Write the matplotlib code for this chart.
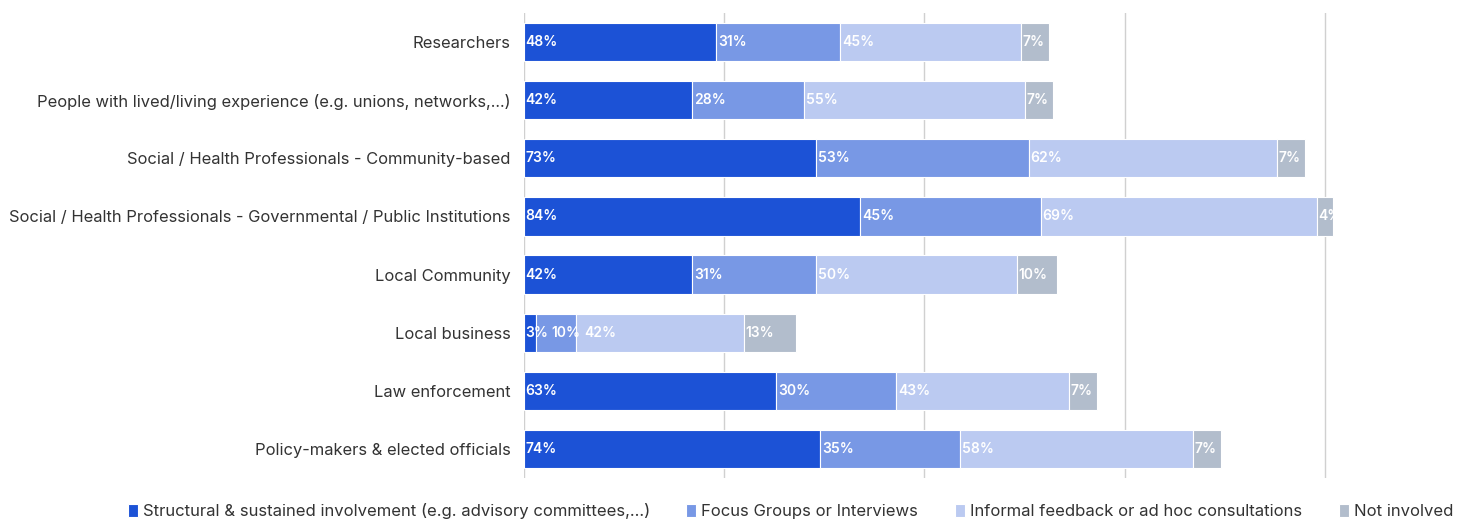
import numpy as np
import matplotlib.pyplot as plt
from matplotlib.patches import Rectangle

plt.rcParams['font.family'] = ['Inter', 'DejaVu Sans']

# -------------------------------------------------
# Datos
# -------------------------------------------------
categorias = [
    "Researchers",
    "People with lived/living experience (e.g. unions, networks,...)",
    "Social / Health Professionals - Community-based",
    "Social / Health Professionals - Governmental / Public Institutions",
    "Local Community",
    "Local business",
    "Law enforcement",
    "Policy-makers & elected officials",
]
series = [
    "Structural & sustained involvement (e.g. advisory committees,...)",
    "Focus Groups or Interviews",
    "Informal feedback or ad hoc consultations",
    "Not involved",
]
estructural = [48, 42, 73, 84, 42, 3, 63, 74]
focus = [31, 28, 53, 45, 31, 10, 30, 35]
informal = [45, 55, 62, 69, 50, 42, 43, 58]
no_involucrado = [7, 7, 7, 4, 10, 13, 7, 7]

colores = ["#1c52d6", "#7898e5", "#bbcaf1", "#b2bdcc"]

# -------------------------------------------------
# Figura
# -------------------------------------------------
fig = plt.figure(figsize=(14.69, 5.19), dpi=100)
ax = fig.add_axes([524 / 1469, 1 - 478 / 519, 1 - 524 / 1469, (478 - 13) / 519])

ax.set_xlim(0, 236)
ax.set_ylim(7.5, -0.5)

y = np.arange(len(categorias))
datos = [estructural, focus, informal, no_involucrado]
totales = np.sum(datos, axis=0)
izq = np.zeros(len(categorias))
for nombre, valores, color in zip(series, datos, colores):
    ax.barh(y, valores, left=izq, height=0.66, color=color, edgecolor="white",
            linewidth=0.8, label=nombre, zorder=3)
    izq += np.array(valores)

# Etiquetas: se evita que se pisen (desplazando a la derecha) y se recortan al final de la barra
fig.canvas.draw()
rend = fig.canvas.get_renderer()
px_por_unidad = ax.transData.transform((1, 0))[0] - ax.transData.transform((0, 0))[0]
for i in range(len(categorias)):
    clip = Rectangle((0, i - 0.33), totales[i], 0.66, transform=ax.transData,
                     facecolor="none", edgecolor="none")
    ax.add_patch(clip)
    x0 = 0.0
    fin_prev = -1e9
    for valores in datos:
        v = valores[i]
        xt = max(x0 + 0.4, fin_prev + 0.8)
        t = ax.text(xt, i, f"{v}%", va="center", ha="left", color="white",
                    fontsize=10, fontweight="semibold", zorder=4)
        t.set_clip_path(clip)
        ancho = t.get_window_extent(rend).width / px_por_unidad
        fin_prev = xt + ancho
        x0 += v

ax.set_xticks([0, 50, 100, 150, 200])
ax.set_xticklabels([])
ax.tick_params(axis="x", length=0)
ax.tick_params(axis="y", length=0, pad=9.5, labelsize=11.9, labelcolor="#333333")
ax.set_yticks(y)
ax.set_yticklabels(categorias)
ax.grid(axis="x", color="#d0d0d0", linewidth=1, zorder=0)
for s in ax.spines.values():
    s.set_visible(False)

fig.legend(loc="center", bbox_to_anchor=(0.538, 0.0154), ncol=4, frameon=False,
           fontsize=12, handlelength=0.6, handleheight=0.8, handletextpad=0.3,
           columnspacing=2.2, labelcolor="#333333")

fig.savefig("out.png", dpi=100)
